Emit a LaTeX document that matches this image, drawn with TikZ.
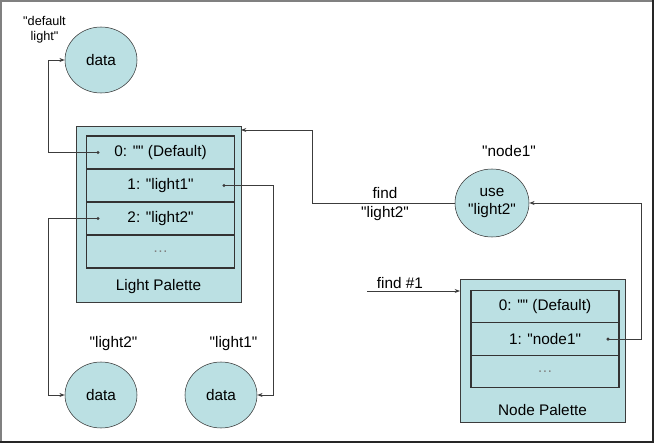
\documentclass[tikz,border=0pt]{standalone}
\usepackage{fontspec}
\setmainfont{Liberation Sans}[Ligatures=TeXOff]
\usetikzlibrary{shapes,arrows.meta,positioning,calc}
\definecolor{palefill}{RGB}{187,224,227}
\definecolor{edge}{RGB}{60,60,60}

\begin{document}
\begin{tikzpicture}[
    x=0.75pt, y=-0.75pt,
    font=\fontsize{11.5}{14}\selectfont,
    palette/.style={rectangle, draw=edge, fill=palefill, minimum width=123.75pt, outer sep=0pt},
    slot/.style={rectangle, draw=black!80, line width=0.9pt, fill=palefill, minimum width=111pt, minimum height=24.75pt, outer sep=0pt},
    blob/.style={ellipse, draw=black!80, fill=palefill, minimum width=54pt, minimum height=49.5pt, inner sep=0pt, align=center},
    arrow/.style={-{Stealth[length=4pt,width=3pt]}, edge, line width=0.75pt},
    tag/.style={align=center, inner sep=0pt}
  ]
    \useasboundingbox (0,0) rectangle (654,443);
    \fill[white] (0,0) rectangle (654,443);
    \draw[gray, line width=1.5pt] (1,443) -- (1,1) -- (654,1);
    \draw[black!85, line width=1.5pt] (653,0) -- (653,442) -- (0,442);

    \node[palette, minimum height=132pt] (lpal) at (158.5,214) {};
    \node[slot] (lrow0) at (160.5,152.5) {0: "" (Default)};
    \node[slot, below=0pt of lrow0] (lrow1) {1: "light1"};
    \node[slot, below=0pt of lrow1] (lrow2) {2: "light2"};
    \node[slot, below=0pt of lrow2] (lrow3) {\textcolor{gray}{…}};
    \node (lname) at (158.5,287) {Light Palette};

    \node[palette, minimum height=107.25pt] (npal) at (542.5,350.5) {};
    \node[slot, minimum height=24.4pt] (nrow0) at (545,306.5) {0: "" (Default)};
    \node[slot, minimum height=24.4pt, below=0pt of nrow0] (nrow1) {1: "node1"};
    \node[slot, minimum height=24.4pt, below=0pt of nrow1] (nrow2) {\textcolor{gray}{…}};
    \node (nname) at (542.5,410) {Node Palette};

    \node[blob] (dflt) at (101,60) {data};
    \node[blob] (light2) at (101,395) {data};
    \node[blob] (light1) at (221,395) {data};
    \node[blob, minimum width=55.5pt, minimum height=51pt] (query) at (492,203) {use\\"light2"};

    \node[tag, font=\fontsize{9.5}{11.5}\selectfont] (dflttag) at (44.5,29.5) {"default\\light"};
    \node[tag] (l2tag) at (113.5,344) {"light2"};
    \node[tag] (l1tag) at (233.5,344) {"light1"};
    \node[tag] (querytag) at (509,151) {"node1"};
    \node[tag] (findtag) at (385,204) {find\\"light2"};
    \node[tag] (find1tag) at (400,283) {find \#1};

    \coordinate (ld0) at ($(lrow0.west)+(11.5,0)$);
    \coordinate (ld1) at ($(lrow1.east)+(-10.5,0)$);
    \coordinate (ld2) at ($(lrow2.west)+(11.5,0)$);
    \coordinate (nd1) at ($(nrow1.east)+(-11,0)$);
    \coordinate (lbend) at (312,130);
    \coordinate (find1) at (367,291);
    \foreach \d in {ld0,ld1,ld2,nd1}
      \fill[edge] (\d) circle (1.3pt);

    \draw[arrow] (ld0) -- ++(-50,0) |- (dflt);
    \draw[arrow] (ld2) -- ++(-50,0) |- (light2);
    \draw[arrow] (ld1) -- ++(49,0) |- (light1);
    \draw[arrow] (nd1) -- ++(33,0) |- (query);
    \draw[arrow] (query) -| (lbend) -- (lbend -| lpal.east);
    \draw[arrow] (find1) -- (find1 -| npal.west);
  \end{tikzpicture}
\end{document}
